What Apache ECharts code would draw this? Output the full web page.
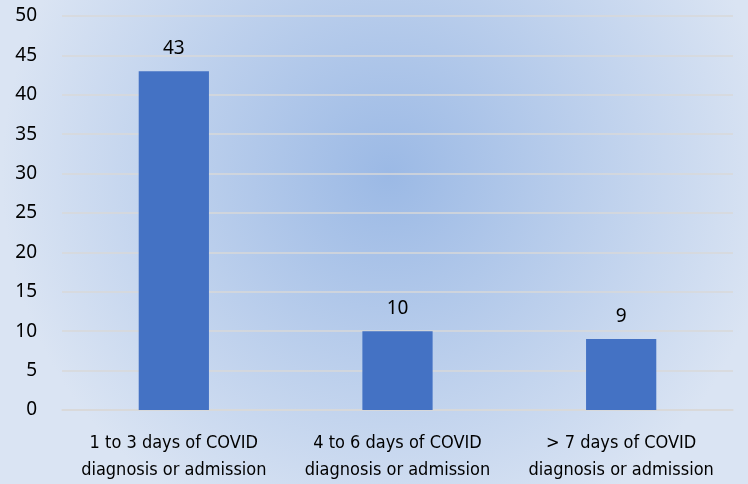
<!DOCTYPE html>
<html>
<head>
<meta charset="utf-8">
<script src="https://cdn.jsdelivr.net/npm/echarts@6/dist/echarts.min.js"></script>
<style>
html, body { margin: 0; padding: 0; }
#chart { width: 748px; height: 484px; }
</style>
</head>
<body>
<div id="chart"></div>
<script>
var categories = [
    "1 to 3 days of COVID\ndiagnosis or admission",
    "4 to 6 days of COVID\ndiagnosis or admission",
    "> 7 days of COVID\ndiagnosis or admission"
];
var values = [43, 10, 9];
var fontName = "'DejaVu Sans Condensed', 'Noto Sans', sans-serif";
var numFont = "'Noto Sans', sans-serif";

var myChart = echarts.init(document.getElementById('chart'));
myChart.setOption({
    backgroundColor: new echarts.graphic.RadialGradient(0.52, 0.36, 0.8, [
        { offset: 0, color: '#9bb9e5' },
        { offset: 1, color: '#dae4f3' }
    ]),
    grid: { left: 62, right: 15, top: 16, bottom: 74 },
    xAxis: {
        type: 'category',
        data: categories,
        axisLine: { show: true, lineStyle: { color: '#d9d9d9', width: 1.5 } },
        axisTick: { show: false },
        axisLabel: {
            color: '#000',
            fontSize: 18,
            fontFamily: fontName,
            lineHeight: 27,
            margin: 20,
            interval: 0
        }
    },
    yAxis: {
        type: 'value',
        min: 0,
        max: 50,
        interval: 5,
        axisLine: { show: false },
        axisTick: { show: false },
        axisLabel: { color: '#000', fontSize: 19, fontFamily: numFont, margin: 25 },
        splitLine: { lineStyle: { color: '#d9d9d9', width: 1.5 } }
    },
    series: [{
        type: 'bar',
        data: values,
        barWidth: '31.4%',
        itemStyle: { color: '#4472c4' },
        label: {
            show: true,
            position: 'top',
            distance: 13,
            color: '#000',
            fontSize: 19,
            fontFamily: numFont
        }
    }]
});
</script>
</body>
</html>
